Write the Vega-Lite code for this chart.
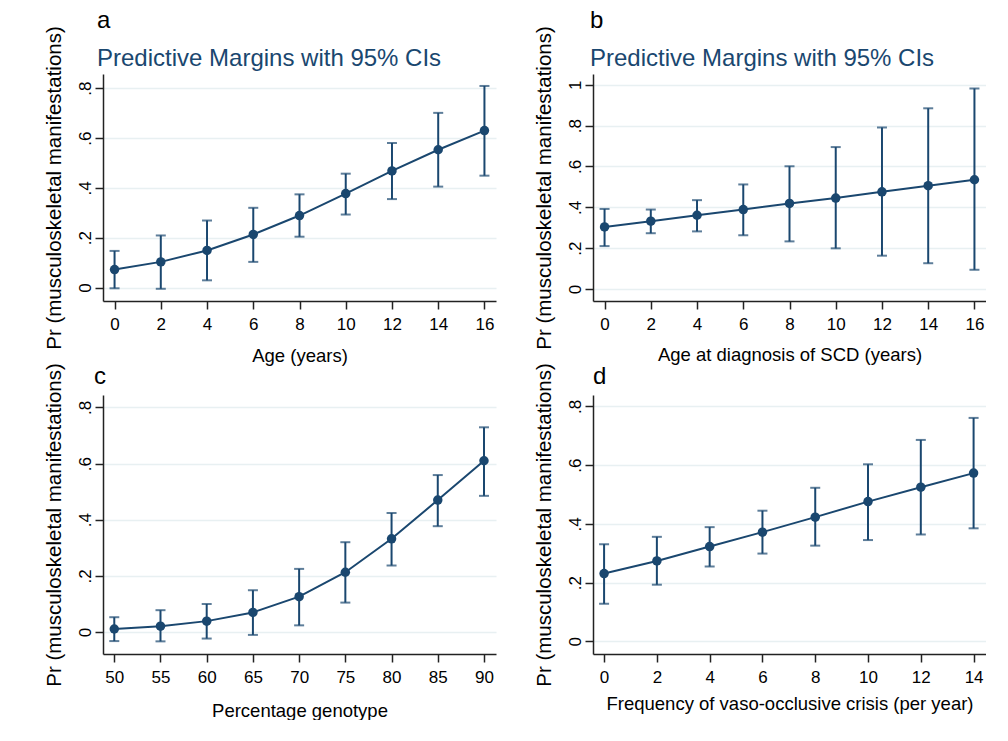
{
  "$schema": "https://vega.github.io/schema/vega-lite/v6.json",
  "background": "white",
  "padding": {"left": 43, "top": 8, "right": 0, "bottom": 0},
  "bounds": "flush",
  "columns": 2,
  "spacing": {"row": 94, "column": 97},
  "datasets": {
    "a": [
      {"x": 0, "y": 0.072, "lo": -0.003, "hi": 0.147},
      {"x": 2, "y": 0.103, "lo": -0.005, "hi": 0.209},
      {"x": 4, "y": 0.149, "lo": 0.029, "hi": 0.269},
      {"x": 6, "y": 0.213, "lo": 0.103, "hi": 0.320},
      {"x": 8, "y": 0.289, "lo": 0.204, "hi": 0.374},
      {"x": 10, "y": 0.377, "lo": 0.293, "hi": 0.457},
      {"x": 12, "y": 0.468, "lo": 0.355, "hi": 0.580},
      {"x": 14, "y": 0.553, "lo": 0.405, "hi": 0.701},
      {"x": 16, "y": 0.630, "lo": 0.449, "hi": 0.809}
    ],
    "b": [
      {"x": 0, "y": 0.304, "lo": 0.210, "hi": 0.392},
      {"x": 2, "y": 0.332, "lo": 0.273, "hi": 0.389},
      {"x": 4, "y": 0.361, "lo": 0.282, "hi": 0.435},
      {"x": 6, "y": 0.389, "lo": 0.263, "hi": 0.512},
      {"x": 8, "y": 0.419, "lo": 0.233, "hi": 0.601},
      {"x": 10, "y": 0.445, "lo": 0.199, "hi": 0.695},
      {"x": 12, "y": 0.476, "lo": 0.163, "hi": 0.791},
      {"x": 14, "y": 0.506, "lo": 0.126, "hi": 0.885},
      {"x": 16, "y": 0.535, "lo": 0.094, "hi": 0.982}
    ],
    "c": [
      {"x": 50, "y": 0.011, "lo": -0.032, "hi": 0.053},
      {"x": 55, "y": 0.021, "lo": -0.033, "hi": 0.078},
      {"x": 60, "y": 0.039, "lo": -0.023, "hi": 0.100},
      {"x": 65, "y": 0.070, "lo": -0.010, "hi": 0.149},
      {"x": 70, "y": 0.126, "lo": 0.024, "hi": 0.225},
      {"x": 75, "y": 0.213, "lo": 0.105, "hi": 0.320},
      {"x": 80, "y": 0.332, "lo": 0.237, "hi": 0.424},
      {"x": 85, "y": 0.470, "lo": 0.377, "hi": 0.559},
      {"x": 90, "y": 0.610, "lo": 0.485, "hi": 0.729}
    ],
    "d": [
      {"x": 0, "y": 0.231, "lo": 0.128, "hi": 0.331},
      {"x": 2, "y": 0.274, "lo": 0.193, "hi": 0.356},
      {"x": 4, "y": 0.323, "lo": 0.255, "hi": 0.389},
      {"x": 6, "y": 0.372, "lo": 0.299, "hi": 0.445},
      {"x": 8, "y": 0.423, "lo": 0.326, "hi": 0.523},
      {"x": 10, "y": 0.476, "lo": 0.345, "hi": 0.603},
      {"x": 12, "y": 0.525, "lo": 0.364, "hi": 0.686},
      {"x": 14, "y": 0.573, "lo": 0.385, "hi": 0.761}
    ]
  },
  "concat": [
    {
      "width": 393, "height": 227,
      "title": {"text": "a", "subtitle": "Predictive Margins with 95% CIs", "dx": -6, "offset": -45},
      "data": {"name": "a"},
      "encoding": {
        "x": {"field": "x", "type": "quantitative", "scale": {"domain": [-0.5, 16.5], "nice": false, "zero": false},
              "axis": {"values": [0, 2, 4, 6, 8, 10, 12, 14, 16], "title": "Age (years)", "titlePadding": 14}}
      },
      "layer": [
        {"mark": {"type": "errorbar", "ticks": {"size": 10}, "thickness": 2, "color": "#1a476f"},
         "encoding": {"y": {"field": "lo", "type": "quantitative", "scale": {"domain": [-0.054, 0.857], "nice": false, "zero": false},
                            "axis": {"values": [0, 0.2, 0.4, 0.6, 0.8], "title": "Pr (musculoskeletal manifestations)"}},
                      "y2": {"field": "hi"}}},
        {"mark": {"type": "line", "color": "#1a476f", "strokeWidth": 2},
         "encoding": {"y": {"field": "y", "type": "quantitative", "scale": {"domain": [-0.054, 0.857], "nice": false, "zero": false},
                            "axis": {"values": [0, 0.2, 0.4, 0.6, 0.8], "title": "Pr (musculoskeletal manifestations)"}}}},
        {"mark": {"type": "point", "filled": true, "size": 90, "opacity": 1, "color": "#1a476f"},
         "encoding": {"y": {"field": "y", "type": "quantitative", "scale": {"domain": [-0.054, 0.857], "nice": false, "zero": false},
                            "axis": {"values": [0, 0.2, 0.4, 0.6, 0.8], "title": "Pr (musculoskeletal manifestations)"}}}}
      ]
    },
    {
      "width": 393, "height": 227,
      "title": {"text": "b", "subtitle": "Predictive Margins with 95% CIs", "dx": -3, "offset": -45},
      "data": {"name": "b"},
      "encoding": {
        "x": {"field": "x", "type": "quantitative", "scale": {"domain": [-0.5, 16.5], "nice": false, "zero": false},
              "axis": {"values": [0, 2, 4, 6, 8, 10, 12, 14, 16], "title": "Age at diagnosis of SCD (years)", "titlePadding": 13}}
      },
      "layer": [
        {"mark": {"type": "errorbar", "ticks": {"size": 10}, "thickness": 2, "color": "#1a476f"},
         "encoding": {"y": {"field": "lo", "type": "quantitative", "scale": {"domain": [-0.059, 1.053], "nice": false, "zero": false},
                            "axis": {"values": [0, 0.2, 0.4, 0.6, 0.8, 1], "title": "Pr (musculoskeletal manifestations)"}},
                      "y2": {"field": "hi"}}},
        {"mark": {"type": "line", "color": "#1a476f", "strokeWidth": 2},
         "encoding": {"y": {"field": "y", "type": "quantitative", "scale": {"domain": [-0.059, 1.053], "nice": false, "zero": false},
                            "axis": {"values": [0, 0.2, 0.4, 0.6, 0.8, 1], "title": "Pr (musculoskeletal manifestations)"}}}},
        {"mark": {"type": "point", "filled": true, "size": 90, "opacity": 1, "color": "#1a476f"},
         "encoding": {"y": {"field": "y", "type": "quantitative", "scale": {"domain": [-0.059, 1.053], "nice": false, "zero": false},
                            "axis": {"values": [0, 0.2, 0.4, 0.6, 0.8, 1], "title": "Pr (musculoskeletal manifestations)"}}}}
      ]
    },
    {
      "width": 393, "height": 259,
      "title": {"text": "c", "dx": -9, "offset": -26},
      "data": {"name": "c"},
      "encoding": {
        "x": {"field": "x", "type": "quantitative", "scale": {"domain": [48.78, 91.3], "nice": false, "zero": false},
              "axis": {"values": [50, 55, 60, 65, 70, 75, 80, 85, 90], "title": "Percentage genotype", "titlePadding": 16}}
      },
      "layer": [
        {"mark": {"type": "errorbar", "ticks": {"size": 10}, "thickness": 2, "color": "#1a476f"},
         "encoding": {"y": {"field": "lo", "type": "quantitative", "scale": {"domain": [-0.078, 0.844], "nice": false, "zero": false},
                            "axis": {"values": [0, 0.2, 0.4, 0.6, 0.8], "title": "Pr (musculoskeletal manifestations)"}},
                      "y2": {"field": "hi"}}},
        {"mark": {"type": "line", "color": "#1a476f", "strokeWidth": 2},
         "encoding": {"y": {"field": "y", "type": "quantitative", "scale": {"domain": [-0.078, 0.844], "nice": false, "zero": false},
                            "axis": {"values": [0, 0.2, 0.4, 0.6, 0.8], "title": "Pr (musculoskeletal manifestations)"}}}},
        {"mark": {"type": "point", "filled": true, "size": 90, "opacity": 1, "color": "#1a476f"},
         "encoding": {"y": {"field": "y", "type": "quantitative", "scale": {"domain": [-0.078, 0.844], "nice": false, "zero": false},
                            "axis": {"values": [0, 0.2, 0.4, 0.6, 0.8], "title": "Pr (musculoskeletal manifestations)"}}}}
      ]
    },
    {
      "width": 393, "height": 259,
      "title": {"text": "d", "dx": 0, "offset": -26},
      "data": {"name": "d"},
      "encoding": {
        "x": {"field": "x", "type": "quantitative", "scale": {"domain": [-0.42, 14.47], "nice": false, "zero": false},
              "axis": {"values": [0, 2, 4, 6, 8, 10, 12, 14], "title": "Frequency of vaso-occlusive crisis (per year)", "titlePadding": 9}}
      },
      "layer": [
        {"mark": {"type": "errorbar", "ticks": {"size": 10}, "thickness": 2, "color": "#1a476f"},
         "encoding": {"y": {"field": "lo", "type": "quantitative", "scale": {"domain": [-0.043, 0.839], "nice": false, "zero": false},
                            "axis": {"values": [0, 0.2, 0.4, 0.6, 0.8], "title": "Pr (musculoskeletal manifestations)"}},
                      "y2": {"field": "hi"}}},
        {"mark": {"type": "line", "color": "#1a476f", "strokeWidth": 2},
         "encoding": {"y": {"field": "y", "type": "quantitative", "scale": {"domain": [-0.043, 0.839], "nice": false, "zero": false},
                            "axis": {"values": [0, 0.2, 0.4, 0.6, 0.8], "title": "Pr (musculoskeletal manifestations)"}}}},
        {"mark": {"type": "point", "filled": true, "size": 90, "opacity": 1, "color": "#1a476f"},
         "encoding": {"y": {"field": "y", "type": "quantitative", "scale": {"domain": [-0.043, 0.839], "nice": false, "zero": false},
                            "axis": {"values": [0, 0.2, 0.4, 0.6, 0.8], "title": "Pr (musculoskeletal manifestations)"}}}}
      ]
    }
  ],
  "config": {
    "font": "Liberation Sans",
    "view": {"stroke": null},
    "title": {"font": "Liberation Sans", "fontSize": 24, "fontWeight": "normal", "color": "#000000",
              "subtitleFont": "Liberation Sans", "subtitleFontSize": 24, "subtitleColor": "#1a476f",
              "anchor": "start", "frame": "group", "subtitlePadding": 14},
    "axis": {"labelFont": "Liberation Sans", "titleFont": "Liberation Sans", "labelFontSize": 17, "titleFontSize": 18.5,
             "labelColor": "#000000", "titleColor": "#000000", "titleFontWeight": "normal",
             "domainColor": "#222222", "domainWidth": 1.5, "tickColor": "#222222", "tickWidth": 1.5, "tickSize": 8,
             "gridColor": "#E8F0F2", "gridWidth": 1.5, "labelFlush": false, "labelOverlap": false},
    "axisX": {"grid": false, "labelPadding": 7},
    "axisY": {"grid": true, "labelAngle": 270, "labelAlign": "center", "labelBaseline": "alphabetic", "labelPadding": 5, "titlePadding": 12, "titleFontSize": 20.5,
              "labelExpr": "datum.value == 0 ? '0' : datum.value >= 1 ? '1' : replace(format(datum.value, '.1f'), '0.', '.')"}
  }
}
